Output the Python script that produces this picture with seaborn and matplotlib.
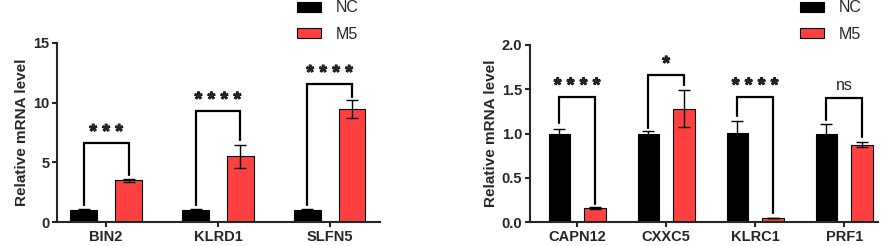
import numpy as np
import pandas as pd
import seaborn as sns
import matplotlib.pyplot as plt
import matplotlib.patheffects as pe
from matplotlib.patches import Patch

# left panel
left_genes = ["BIN2", "KLRD1", "SLFN5"]
left_nc = [1.0, 1.0, 1.0]
left_nc_err = [0.08, 0.1, 0.05]
left_m5 = [3.5, 5.5, 9.45]
left_m5_err = [0.12, 0.95, 0.75]
left_sig = ["***", "****", "****"]
left_br_top = [6.6, 9.3, 11.55]
left_br_l = [1.4, 1.4, 1.4]
left_br_r = [3.9, 6.9, 10.5]

# right panel
right_genes = ["CAPN12", "CXXC5", "KLRC1", "PRF1"]
right_nc = [1.0, 1.0, 1.005, 1.0]
right_nc_err = [0.05, 0.025, 0.135, 0.11]
right_m5 = [0.16, 1.28, 0.045, 0.875]
right_m5_err = [0.015, 0.21, 0.005, 0.03]
right_sig = ["****", "*", "****", "ns"]
right_br_top = [1.415, 1.66, 1.415, 1.40]
right_br_l = [1.12, 1.06, 1.2, 1.15]
right_br_r = [0.2, 1.55, 0.1, 0.96]

groups = ["NC", "M5"]
colors = {"NC": "#000000", "M5": "#FF4040"}


def make_df(genes, nc, nce, m5, m5e):
    df = pd.DataFrame({
        "gene": genes * 2,
        "group": ["NC"] * len(genes) + ["M5"] * len(genes),
        "value": list(nc) + list(m5),
        "err": list(nce) + list(m5e),
    })
    return df


def panel(ax, df, sig, br_top, br_l, br_r, ylim, yticks, fmt):
    sns.barplot(data=df, x="gene", y="value", hue="group", hue_order=groups,
                palette=colors, saturation=1, width=0.8, gap=0.4, errorbar=None,
                edgecolor="black", linewidth=0.8, ax=ax, legend=False)
    n = df["gene"].nunique()
    xs = [p.get_x() + p.get_width() / 2 for p in ax.patches[:2 * n]]
    ax.errorbar(xs, df["value"], yerr=df["err"], fmt="none", ecolor="black",
                elinewidth=1.0, capsize=4, capthick=1.0, zorder=5)
    for i in range(n):
        x1, x2 = xs[i], xs[n + i]
        ax.plot([x1, x1, x2, x2], [br_l[i], br_top[i], br_top[i], br_r[i]],
                color="black", lw=1.6, solid_joinstyle="miter")
        if sig[i] == "ns":
            ax.text((x1 + x2) / 2, br_top[i] + ylim[1] * 0.03, "ns",
                    ha="center", va="bottom", fontsize=11.5)
        else:
            ax.text((x1 + x2) / 2, br_top[i] + ylim[1] * 0.01, " ".join(sig[i]),
                    ha="center", va="bottom", fontsize=14, fontweight="bold",
                    path_effects=[pe.withStroke(linewidth=0.7, foreground="black")])
    ax.set_ylim(*ylim)
    ax.set_yticks(yticks)
    ax.set_yticklabels([fmt.format(t) for t in yticks])
    ax.set_xlabel("")
    ax.set_ylabel("Relative mRNA level", fontsize=11, fontweight="bold", labelpad=3)
    sns.despine(ax=ax)
    for s in ["left", "bottom"]:
        ax.spines[s].set_linewidth(1.5)
    ax.tick_params(width=1.5, length=3.5, labelsize=10.5, pad=2)
    for lab in ax.get_xticklabels() + ax.get_yticklabels():
        lab.set_fontweight("bold")


sns.set_theme(style="ticks")
plt.rcParams["font.family"] = ["Liberation Sans", "DejaVu Sans"]

fig = plt.figure(figsize=(8.86, 2.46), dpi=100)
ax1 = fig.add_axes([57 / 886, 24 / 246, 323 / 886, 179 / 246])
ax2 = fig.add_axes([530 / 886, 24 / 246, 348 / 886, 177 / 246])

dl = make_df(left_genes, left_nc, left_nc_err, left_m5, left_m5_err)
dr = make_df(right_genes, right_nc, right_nc_err, right_m5, right_m5_err)
panel(ax1, dl, left_sig, left_br_top, left_br_l, left_br_r, (0, 15), [0, 5, 10, 15], "{:.0f}")
panel(ax2, dr, right_sig, right_br_top, right_br_l, right_br_r, (0, 2), [0, 0.5, 1.0, 1.5, 2.0], "{:.1f}")
ax1.set_xlim(-0.44, 2.45)
ax2.set_xlim(-0.53, 3.38)

handles = [Patch(facecolor=colors[g], edgecolor="black", linewidth=0.8) for g in groups]
for xpix in [297, 800]:
    fig.legend(handles, groups, loc="upper left", bbox_to_anchor=(xpix / 886, 0.998),
               frameon=False, fontsize=11.5, handlelength=1.5, handleheight=0.6,
               labelspacing=0.7, borderpad=0, borderaxespad=0, handletextpad=0.9)

fig.savefig("out.png", dpi=100)
